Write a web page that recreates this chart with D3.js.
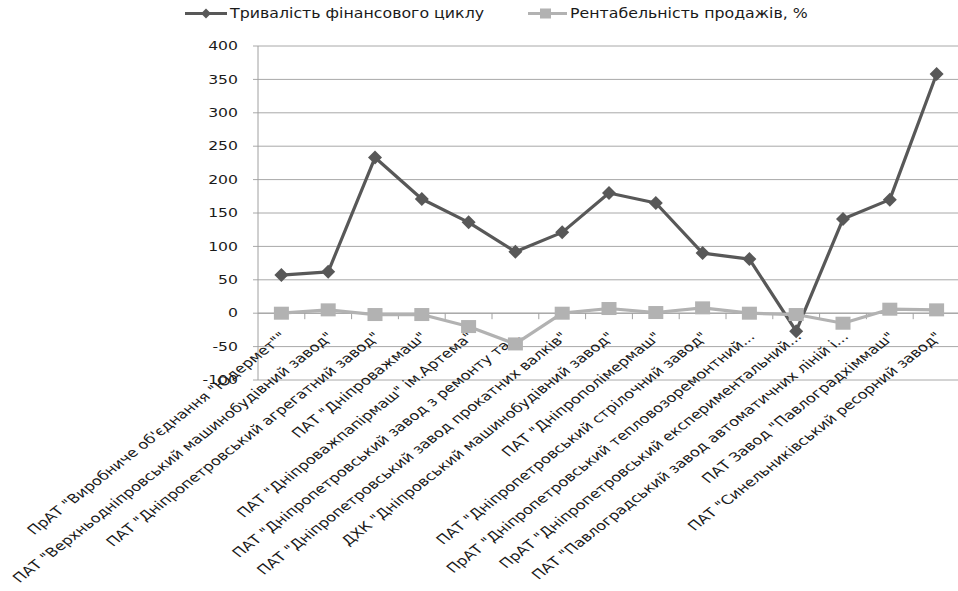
<!DOCTYPE html>
<html>
<head>
<meta charset="utf-8">
<script src="https://cdnjs.cloudflare.com/ajax/libs/d3/7.8.5/d3.min.js"></script>
<style>
  html, body { margin: 0; padding: 0; background: #fff; }
  svg { display: block; }
  text { font-family: "DejaVu Sans", sans-serif; fill: #1a1a1a; }
</style>
</head>
<body>
<svg id="chart" width="958" height="591"></svg>
<script>
const categories = [
  'ПрАТ "Виробниче об\'єднання "Юдермет""',
  'ПАТ "Верхньодніпровський машинобудівний завод"',
  'ПАТ "Дніпропетровський агрегатний завод"',
  'ПАТ "Дніпроважмаш"',
  'ПАТ "Дніпроважпапірмаш" ім.Артема"',
  'ПАТ "Дніпропетровський завод з ремонту та...',
  'ПАТ "Дніпропетровський завод прокатних валків"',
  'ДХК "Дніпровський машинобудівний завод"',
  'ПАТ "Дніпрополімермаш"',
  'ПАТ "Дніпропетровський стрілочний завод"',
  'ПрАТ "Дніпропетровський тепловозоремонтний...',
  'ПрАТ "Дніпропетровський експериментальний...',
  'ПАТ "Павлоградський завод автоматичних ліній і...',
  'ПАТ Завод "Павлоградхіммаш"',
  'ПАТ "Синельниківський ресорний завод"'
];
const cycleValues  = [57, 62, 233, 171, 136, 92, 121, 180, 165, 90, 81, -27, 141, 170, 358];
const profitValues = [0, 5, -2, -2, -20, -46, 0, 7, 1, 8, 0, -2, -15, 6, 5];
const yTicks = [-100, -50, 0, 50, 100, 150, 200, 250, 300, 350, 400];
const seriesNames = ['Тривалість фінансового циклу', 'Рентабельність продажів, %'];
const seriesColors = ['#585858', '#b2b2b2'];

(function () {
const svg = d3.select('#chart');
const pLeft = 258, pRight = 960, pTop = 46, pBottom = 380;

const x = d3.scaleBand().domain(categories).range([pLeft, pRight]);
const y = d3.scaleLinear().domain([-100, 400]).range([pBottom, pTop]);
const cx = c => x(c) + x.bandwidth() / 2;

// gridlines
svg.append('g').selectAll('line').data(yTicks).join('line')
  .attr('x1', pLeft - 5).attr('x2', pRight)
  .attr('y1', d => y(d)).attr('y2', d => y(d))
  .attr('stroke', '#a8a8a8').attr('stroke-width', 1);

// y axis line
svg.append('line').attr('x1', pLeft).attr('x2', pLeft)
  .attr('y1', y(400)).attr('y2', y(-100))
  .attr('stroke', '#a0a0a0').attr('stroke-width', 1);

// y tick labels
svg.append('g').selectAll('g').data(yTicks).join('g')
  .attr('transform', d => `translate(238,${y(d)}) scale(1.36,1)`)
  .append('text')
  .attr('text-anchor', 'end').attr('dy', '0.36em')
  .attr('font-size', 11.5)
  .text(d => d);

// x axis at zero with ticks on band boundaries
svg.append('line').attr('x1', pLeft).attr('x2', pRight)
  .attr('y1', y(0)).attr('y2', y(0)).attr('stroke', '#a0a0a0');
svg.append('g').selectAll('line').data(categories).join('line')
  .attr('x1', d => x(d) + x.bandwidth()).attr('x2', d => x(d) + x.bandwidth())
  .attr('y1', y(0)).attr('y2', y(0) + 6)
  .attr('stroke', '#a0a0a0');

// category labels
svg.append('g').selectAll('g').data(categories).join('g')
  .attr('transform', d => `translate(${cx(d) - 2},331) scale(1.28,1) rotate(-45)`)
  .append('text')
  .attr('text-anchor', 'end').attr('dy', '0.72em')
  .attr('font-size', 12.7)
  .text(d => d);

// series lines
const line = d3.line().x(d => cx(d.c)).y(d => y(d.v));
const cycleData = categories.map((c, i) => ({ c, v: cycleValues[i] }));
const profitData = categories.map((c, i) => ({ c, v: profitValues[i] }));

const diamond = (s) => `M0,${-s}L${s},0L0,${s}L${-s},0Z`;

svg.append('path').datum(cycleData).attr('d', line)
  .attr('fill', 'none').attr('stroke', seriesColors[0]).attr('stroke-width', 3.2)
  .attr('stroke-linejoin', 'round');
svg.append('g').selectAll('path').data(cycleData).join('path')
  .attr('transform', d => `translate(${cx(d.c)},${y(d.v)})`)
  .attr('d', diamond(7)).attr('fill', seriesColors[0]);

svg.append('path').datum(profitData).attr('d', line)
  .attr('fill', 'none').attr('stroke', seriesColors[1]).attr('stroke-width', 3.2)
  .attr('stroke-linejoin', 'round');
svg.append('g').selectAll('rect').data(profitData).join('rect')
  .attr('x', d => cx(d.c) - 7.5).attr('y', d => y(d.v) - 6.5)
  .attr('width', 15).attr('height', 13).attr('fill', seriesColors[1]);

// legend
const legend = svg.append('g');
const lg1 = legend.append('g');
lg1.append('line').attr('x1', 185).attr('x2', 227).attr('y1', 13.5).attr('y2', 13.5)
  .attr('stroke', seriesColors[0]).attr('stroke-width', 3);
lg1.append('path').attr('transform', 'translate(206,13.5)').attr('d', diamond(5)).attr('fill', seriesColors[0]);
lg1.append('g').attr('transform', 'translate(230,18) scale(1.17,1)')
  .append('text').attr('font-size', 13.5).text(seriesNames[0]);

const lg2 = legend.append('g');
lg2.append('line').attr('x1', 528).attr('x2', 567).attr('y1', 13.5).attr('y2', 13.5)
  .attr('stroke', seriesColors[1]).attr('stroke-width', 3);
lg2.append('rect').attr('x', 540).attr('y', 8.5).attr('width', 11).attr('height', 10).attr('fill', seriesColors[1]);
lg2.append('g').attr('transform', 'translate(570,18) scale(1.17,1)')
  .append('text').attr('font-size', 13.5).text(seriesNames[1]);
})();
</script>
</body>
</html>
